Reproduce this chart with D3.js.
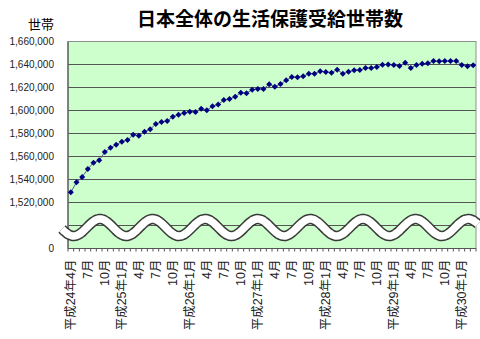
<!DOCTYPE html>
<html>
<head>
<meta charset="utf-8">
<script src="https://cdn.jsdelivr.net/npm/d3@7"></script>
<style>
  html, body { margin: 0; padding: 0; background: #fff; }
  svg { display: block; }
  text { font-family: "Liberation Sans", Arial, "Noto Sans CJK JP", sans-serif; }
</style>
</head>
<body>
<svg id="chart" width="480" height="339"></svg>
<script>
// Monthly categories, 平成24年4月 – 平成30年3月
const categories = [
  "H24-04","H24-05","H24-06","H24-07","H24-08","H24-09","H24-10","H24-11","H24-12",
  "H25-01","H25-02","H25-03","H25-04","H25-05","H25-06","H25-07","H25-08","H25-09","H25-10","H25-11","H25-12",
  "H26-01","H26-02","H26-03","H26-04","H26-05","H26-06","H26-07","H26-08","H26-09","H26-10","H26-11","H26-12",
  "H27-01","H27-02","H27-03","H27-04","H27-05","H27-06","H27-07","H27-08","H27-09","H27-10","H27-11","H27-12",
  "H28-01","H28-02","H28-03","H28-04","H28-05","H28-06","H28-07","H28-08","H28-09","H28-10","H28-11","H28-12",
  "H29-01","H29-02","H29-03","H29-04","H29-05","H29-06","H29-07","H29-08","H29-09","H29-10","H29-11","H29-12",
  "H30-01","H30-02","H30-03"
];

// 生活保護受給世帯数
const households = [
  1528900, 1537600, 1542200, 1549100, 1554600, 1556700, 1563900, 1567600, 1570300,
  1572900, 1574300, 1579000, 1578100, 1581600, 1583600, 1588300, 1590000, 1590900, 1594600, 1596300, 1597800,
  1599000, 1598700, 1601600, 1600200, 1603700, 1605200, 1609100, 1610000, 1612000, 1615500, 1615000, 1618100,
  1618700, 1618700, 1622800, 1620700, 1623000, 1626300, 1629100, 1628900, 1629700, 1632000, 1632000, 1634100,
  1633500, 1632900, 1635500, 1632000, 1633700, 1635000, 1635200, 1636900, 1637000, 1637800, 1639800, 1640100,
  1639600, 1638700, 1641600, 1637000, 1639600, 1640700, 1641000, 1643000, 1642800, 1643000, 1643000, 1643000,
  1639600, 1638400, 1639300
];

// Labelled months on the category axis
const tickCategories = [
  "H24-04","H24-07","H24-10","H25-01","H25-04","H25-07","H25-10","H26-01","H26-04","H26-07","H26-10","H27-01",
  "H27-04","H27-07","H27-10","H28-01","H28-04","H28-07","H28-10","H29-01","H29-04","H29-07","H29-10","H30-01"
];
const tickLabels = [
  "平成24年4月","7月","10月","平成25年1月","4月","7月","10月","平成26年1月","4月","7月","10月","平成27年1月",
  "4月","7月","10月","平成28年1月","4月","7月","10月","平成29年1月","4月","7月","10月","平成30年1月"
];

// Value axis: the lowest gridline stands in for 0 below the break
const yTicks = [1480000, 1500000, 1520000, 1540000, 1560000, 1580000, 1600000, 1620000, 1640000, 1660000];
const yTickLabels = ["0", "", "1,520,000", "1,540,000", "1,560,000", "1,580,000", "1,600,000", "1,620,000", "1,640,000", "1,660,000"];

const title = "日本全体の生活保護受給世帯数";
const unitLabel = "世帯";

const svg = d3.select("#chart");
const plot = { left: 68, right: 476, top: 41.5, bottom: 248.5 };

const x = d3.scaleBand().domain(categories).range([plot.left, plot.right]);
const y = d3.scaleLinear().domain([1480000, 1660000]).range([plot.bottom, plot.top]);

// Plot background
svg.append("rect")
  .attr("x", plot.left).attr("y", plot.top)
  .attr("width", plot.right - plot.left).attr("height", plot.bottom - plot.top)
  .attr("fill", "#ccffcc");

// Horizontal gridlines
svg.append("g").selectAll("line").data(yTicks.slice(1, -1)).join("line")
  .attr("x1", plot.left).attr("x2", plot.right)
  .attr("y1", d => y(d)).attr("y2", d => y(d))
  .attr("stroke", "#555").attr("stroke-width", 1.2);

// Plot border
svg.append("rect")
  .attr("x", plot.left).attr("y", plot.top)
  .attr("width", plot.right - plot.left).attr("height", plot.bottom - plot.top)
  .attr("fill", "none").attr("stroke", "#909090").attr("stroke-width", 1);
svg.append("line")
  .attr("x1", plot.left).attr("x2", plot.left)
  .attr("y1", plot.top).attr("y2", plot.bottom)
  .attr("stroke", "#555").attr("stroke-width", 1.2);

// Value axis labels
const yAxis = d3.axisLeft(y)
  .tickValues(yTicks)
  .tickSize(0)
  .tickPadding(14)
  .tickFormat((d, i) => yTickLabels[i]);
const gy = svg.append("g").attr("transform", `translate(${plot.left},0)`).call(yAxis);
gy.select(".domain").remove();
gy.selectAll("text").attr("font-size", 10).attr("fill", "#222")
  .style("font-family", '"Liberation Sans", Arial, sans-serif');

// Axis break: a white wavy band across the lower part of the plot
const period = 52.6, amp = 8.5, midY = 227.5, crestX = 100;
const wavePts = d3.range(62, 478.5, 1).map(px => [px, midY - amp * Math.cos(2 * Math.PI * (px - crestX) / period)]);
const waveLine = d3.line().curve(d3.curveBasis);
svg.append("path").attr("d", waveLine(wavePts))
  .attr("fill", "none").attr("stroke", "#3a3a3a").attr("stroke-width", 10.5);
svg.append("path").attr("d", waveLine(wavePts))
  .attr("fill", "none").attr("stroke", "#ffffff").attr("stroke-width", 7.5);

// Category axis
svg.append("line")
  .attr("x1", plot.left).attr("x2", plot.right)
  .attr("y1", plot.bottom).attr("y2", plot.bottom)
  .attr("stroke", "#555").attr("stroke-width", 1.2);
svg.append("g").selectAll("line").data(categories.concat(["end"])).join("line")
  .attr("x1", (d, i) => plot.left + i * x.step()).attr("x2", (d, i) => plot.left + i * x.step())
  .attr("y1", plot.bottom).attr("y2", plot.bottom + 3)
  .attr("stroke", "#555").attr("stroke-width", 1);

const xAxis = d3.axisBottom(x)
  .tickValues(tickCategories)
  .tickSize(0)
  .tickFormat((d, i) => tickLabels[i]);
const gx = svg.append("g").attr("transform", `translate(0,${plot.bottom})`).call(xAxis);
gx.select(".domain").remove();
gx.selectAll("text")
  .attr("font-size", 12.5).attr("fill", "#222")
  .attr("transform", "rotate(-90)")
  .attr("text-anchor", "end")
  .attr("x", -11).attr("y", 0).attr("dy", "0.35em")
  .style("font-family", '"Liberation Sans", Arial, "Noto Sans CJK JP", sans-serif');

// Series line and markers
const cx = d => x(d) + x.bandwidth() / 2;
const line = d3.line().x((d, i) => cx(categories[i])).y(d => y(d));
svg.append("path").datum(households)
  .attr("d", line)
  .attr("fill", "none").attr("stroke", "#5a5a90").attr("stroke-width", 1);
svg.append("g").selectAll("path").data(households).join("path")
  .attr("d", d3.symbol(d3.symbolSquare, 18))
  .attr("transform", (d, i) => `translate(${cx(categories[i])},${y(d)}) rotate(45)`)
  .attr("fill", "#000080");

// Title and unit label
svg.append("text")
  .attr("x", 270).attr("y", 26)
  .attr("text-anchor", "middle")
  .attr("font-size", 19).attr("font-weight", "bold").attr("fill", "#000")
  .style("font-family", '"Noto Sans CJK JP", sans-serif')
  .text(title);
svg.append("text")
  .attr("x", 41).attr("y", 29)
  .attr("text-anchor", "middle")
  .attr("font-size", 13).attr("fill", "#000")
  .style("font-family", '"Noto Sans CJK JP", sans-serif')
  .text(unitLabel);
</script>
</body>
</html>
